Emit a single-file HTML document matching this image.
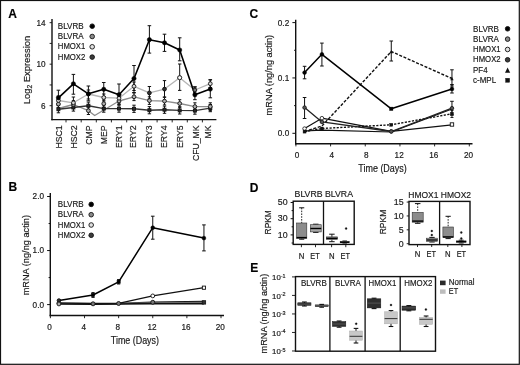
<!DOCTYPE html><html><head><meta charset="utf-8"><style>html,body{margin:0;padding:0;background:#fff;}svg{display:block;filter:blur(0.3px);}text{font-family:"Liberation Sans",sans-serif;stroke:#1a1a1a;stroke-width:0.18px;}</style></head><body>
<svg width="520" height="365" viewBox="0 0 520 365">
<rect x="0" y="0" width="520" height="365" fill="#fff"/>
<rect x="0.5" y="0.5" width="518.8" height="363.8" fill="none" stroke="#111" stroke-width="1.2"/>
<text x="8.2" y="17.8" font-size="12" text-anchor="start" font-weight="bold" fill="#000" >A</text>
<text x="8.6" y="190.8" font-size="12" text-anchor="start" font-weight="bold" fill="#000" >B</text>
<text x="249.6" y="17.6" font-size="12" text-anchor="start" font-weight="bold" fill="#000" >C</text>
<text x="249.8" y="191.6" font-size="12" text-anchor="start" font-weight="bold" fill="#000" >D</text>
<text x="250.2" y="272" font-size="12" text-anchor="start" font-weight="bold" fill="#000" >E</text>
<line x1="52.0" y1="19" x2="52.0" y2="120.2" stroke="#111" stroke-width="1.4" />
<line x1="51.3" y1="119.6" x2="216.4" y2="119.6" stroke="#111" stroke-width="1.4" />
<line x1="49.6" y1="22.659999999999997" x2="52.0" y2="22.659999999999997" stroke="#111" stroke-width="0.9" />
<line x1="49.6" y1="43.42" x2="52.0" y2="43.42" stroke="#111" stroke-width="0.9" />
<line x1="49.6" y1="64.18" x2="52.0" y2="64.18" stroke="#111" stroke-width="0.9" />
<line x1="49.6" y1="84.94" x2="52.0" y2="84.94" stroke="#111" stroke-width="0.9" />
<line x1="49.6" y1="105.7" x2="52.0" y2="105.7" stroke="#111" stroke-width="0.9" />
<text x="45.6" y="25.559999999999995" font-size="8.2" text-anchor="end" font-weight="normal" fill="#1a1a1a" >14</text>
<text x="45.6" y="67.08000000000001" font-size="8.2" text-anchor="end" font-weight="normal" fill="#1a1a1a" >10</text>
<text x="45.6" y="108.60000000000001" font-size="8.2" text-anchor="end" font-weight="normal" fill="#1a1a1a" >6</text>
<text transform="translate(30.0,70.0) rotate(-90)" font-size="9.6" text-anchor="middle" fill="#1a1a1a" textLength="68.6" lengthAdjust="spacingAndGlyphs">Log<tspan font-size="6.8" dy="2.2">2</tspan><tspan dy="-2.2"> Expression</tspan></text>
<line x1="66.0" y1="119.6" x2="66.0" y2="122.4" stroke="#111" stroke-width="0.9" />
<line x1="81.2" y1="119.6" x2="81.2" y2="122.4" stroke="#111" stroke-width="0.9" />
<line x1="96.3" y1="119.6" x2="96.3" y2="122.4" stroke="#111" stroke-width="0.9" />
<line x1="111.4" y1="119.6" x2="111.4" y2="122.4" stroke="#111" stroke-width="0.9" />
<line x1="126.7" y1="119.6" x2="126.7" y2="122.4" stroke="#111" stroke-width="0.9" />
<line x1="141.8" y1="119.6" x2="141.8" y2="122.4" stroke="#111" stroke-width="0.9" />
<line x1="157.1" y1="119.6" x2="157.1" y2="122.4" stroke="#111" stroke-width="0.9" />
<line x1="172.2" y1="119.6" x2="172.2" y2="122.4" stroke="#111" stroke-width="0.9" />
<line x1="187.3" y1="119.6" x2="187.3" y2="122.4" stroke="#111" stroke-width="0.9" />
<line x1="202.4" y1="119.6" x2="202.4" y2="122.4" stroke="#111" stroke-width="0.9" />
<text transform="translate(62.1,125.4) rotate(-90)" font-size="8.7" text-anchor="end" fill="#1a1a1a">HSC1</text>
<text transform="translate(76.5,125.4) rotate(-90)" font-size="8.7" text-anchor="end" fill="#1a1a1a">HSC2</text>
<text transform="translate(92.4,125.4) rotate(-90)" font-size="8.7" text-anchor="end" fill="#1a1a1a">CMP</text>
<text transform="translate(107.4,125.4) rotate(-90)" font-size="8.7" text-anchor="end" fill="#1a1a1a">MEP</text>
<text transform="translate(121.9,125.4) rotate(-90)" font-size="8.7" text-anchor="end" fill="#1a1a1a">ERY1</text>
<text transform="translate(135.6,125.4) rotate(-90)" font-size="8.7" text-anchor="end" fill="#1a1a1a">ERY2</text>
<text transform="translate(151.7,125.4) rotate(-90)" font-size="8.7" text-anchor="end" fill="#1a1a1a">ERY3</text>
<text transform="translate(167.0,125.4) rotate(-90)" font-size="8.7" text-anchor="end" fill="#1a1a1a">ERY4</text>
<text transform="translate(182.7,125.4) rotate(-90)" font-size="8.7" text-anchor="end" fill="#1a1a1a">ERY5</text>
<text transform="translate(198.6,125.4) rotate(-90)" font-size="8.7" text-anchor="end" fill="#1a1a1a">CFU_MK</text>
<text transform="translate(211.2,125.4) rotate(-90)" font-size="8.7" text-anchor="end" fill="#1a1a1a">MK</text>
<text x="57.8" y="29.0" font-size="9.1" text-anchor="start" font-weight="normal" fill="#1a1a1a" textLength="25.8" lengthAdjust="spacingAndGlyphs" >BLVRB</text>
<circle cx="92.2" cy="26.2" r="2.3" fill="#000" stroke="#111" stroke-width="0.9"/>
<text x="57.8" y="39.2" font-size="9.1" text-anchor="start" font-weight="normal" fill="#1a1a1a" textLength="25.8" lengthAdjust="spacingAndGlyphs" >BLVRA</text>
<circle cx="92.2" cy="36.5" r="2.3" fill="#8a8a8a" stroke="#111" stroke-width="0.9"/>
<text x="57.8" y="49.4" font-size="9.1" text-anchor="start" font-weight="normal" fill="#1a1a1a" textLength="27.5" lengthAdjust="spacingAndGlyphs" >HMOX1</text>
<circle cx="92.2" cy="46.8" r="2.3" fill="#e0e0e0" stroke="#111" stroke-width="0.9"/>
<text x="57.8" y="59.599999999999994" font-size="9.1" text-anchor="start" font-weight="normal" fill="#1a1a1a" textLength="27.5" lengthAdjust="spacingAndGlyphs" >HMOX2</text>
<circle cx="92.2" cy="57.1" r="2.3" fill="#3c3c3c" stroke="#111" stroke-width="0.9"/>
<polyline points="58.4,100.5 73.4,102.8 88.4,94.0 103.75,97.5 119.0,98.2 134.0,86.3 149.4,92.9 164.5,89.1 179.7,77.7 194.9,90.0 210.3,83.7" fill="none" stroke="#b4b4b4" stroke-width="1.3" stroke-linejoin="round" />
<polyline points="58.4,108.5 73.4,104.5 88.4,110.7 94.7,115.5 119,101 134,96.8 149.4,100.6 164.5,101.1 179.7,103.5 194.9,106.6 210.3,106.6" fill="none" stroke="#8c8c8c" stroke-width="1.3" stroke-linejoin="round" />
<polyline points="58.4,109.2 73.4,107.5 88.4,105.7 103.75,108.6 119.0,108.6 134.0,108.8 149.4,110.2 164.5,109.7 179.7,110.4 194.9,110.6 210.3,108.1" fill="none" stroke="#333" stroke-width="1.4" stroke-linejoin="round" />
<line x1="58.4" y1="96" x2="58.4" y2="105" stroke="#111" stroke-width="1.0" />
<line x1="56.699999999999996" y1="96" x2="60.1" y2="96" stroke="#111" stroke-width="1.0" />
<line x1="56.699999999999996" y1="105" x2="60.1" y2="105" stroke="#111" stroke-width="1.0" />
<line x1="58.4" y1="100.2" x2="58.4" y2="107.8" stroke="#111" stroke-width="1.0" />
<line x1="56.8" y1="100.2" x2="60.0" y2="100.2" stroke="#111" stroke-width="1.0" />
<line x1="56.8" y1="107.8" x2="60.0" y2="107.8" stroke="#111" stroke-width="1.0" />
<line x1="58.4" y1="105.60000000000001" x2="58.4" y2="112.8" stroke="#111" stroke-width="1.0" />
<line x1="56.699999999999996" y1="105.60000000000001" x2="60.1" y2="105.60000000000001" stroke="#111" stroke-width="1.0" />
<line x1="56.699999999999996" y1="112.8" x2="60.1" y2="112.8" stroke="#111" stroke-width="1.0" />
<line x1="58.4" y1="90.2" x2="58.4" y2="104" stroke="#111" stroke-width="1.0" />
<line x1="56.6" y1="90.2" x2="60.199999999999996" y2="90.2" stroke="#111" stroke-width="1.0" />
<line x1="56.6" y1="104" x2="60.199999999999996" y2="104" stroke="#111" stroke-width="1.0" />
<line x1="73.4" y1="97" x2="73.4" y2="108" stroke="#111" stroke-width="1.0" />
<line x1="71.7" y1="97" x2="75.10000000000001" y2="97" stroke="#111" stroke-width="1.0" />
<line x1="71.7" y1="108" x2="75.10000000000001" y2="108" stroke="#111" stroke-width="1.0" />
<line x1="73.4" y1="100.7" x2="73.4" y2="108.3" stroke="#111" stroke-width="1.0" />
<line x1="71.80000000000001" y1="100.7" x2="75.0" y2="100.7" stroke="#111" stroke-width="1.0" />
<line x1="71.80000000000001" y1="108.3" x2="75.0" y2="108.3" stroke="#111" stroke-width="1.0" />
<line x1="73.4" y1="103.9" x2="73.4" y2="111.1" stroke="#111" stroke-width="1.0" />
<line x1="71.7" y1="103.9" x2="75.10000000000001" y2="103.9" stroke="#111" stroke-width="1.0" />
<line x1="71.7" y1="111.1" x2="75.10000000000001" y2="111.1" stroke="#111" stroke-width="1.0" />
<line x1="73.4" y1="74.4" x2="73.4" y2="94.2" stroke="#111" stroke-width="1.0" />
<line x1="71.60000000000001" y1="74.4" x2="75.2" y2="74.4" stroke="#111" stroke-width="1.0" />
<line x1="71.60000000000001" y1="94.2" x2="75.2" y2="94.2" stroke="#111" stroke-width="1.0" />
<line x1="88.4" y1="90" x2="88.4" y2="99" stroke="#111" stroke-width="1.0" />
<line x1="86.7" y1="90" x2="90.10000000000001" y2="90" stroke="#111" stroke-width="1.0" />
<line x1="86.7" y1="99" x2="90.10000000000001" y2="99" stroke="#111" stroke-width="1.0" />
<line x1="88.4" y1="106.9" x2="88.4" y2="114.5" stroke="#111" stroke-width="1.0" />
<line x1="86.80000000000001" y1="106.9" x2="90.0" y2="106.9" stroke="#111" stroke-width="1.0" />
<line x1="86.80000000000001" y1="114.5" x2="90.0" y2="114.5" stroke="#111" stroke-width="1.0" />
<line x1="88.4" y1="102.10000000000001" x2="88.4" y2="109.3" stroke="#111" stroke-width="1.0" />
<line x1="86.7" y1="102.10000000000001" x2="90.10000000000001" y2="102.10000000000001" stroke="#111" stroke-width="1.0" />
<line x1="86.7" y1="109.3" x2="90.10000000000001" y2="109.3" stroke="#111" stroke-width="1.0" />
<line x1="88.4" y1="86" x2="88.4" y2="100.8" stroke="#111" stroke-width="1.0" />
<line x1="86.60000000000001" y1="86" x2="90.2" y2="86" stroke="#111" stroke-width="1.0" />
<line x1="86.60000000000001" y1="100.8" x2="90.2" y2="100.8" stroke="#111" stroke-width="1.0" />
<line x1="103.75" y1="94" x2="103.75" y2="101" stroke="#111" stroke-width="1.0" />
<line x1="102.05" y1="94" x2="105.45" y2="94" stroke="#111" stroke-width="1.0" />
<line x1="102.05" y1="101" x2="105.45" y2="101" stroke="#111" stroke-width="1.0" />
<line x1="103.75" y1="99.9" x2="103.75" y2="107.5" stroke="#111" stroke-width="1.0" />
<line x1="102.15" y1="99.9" x2="105.35" y2="99.9" stroke="#111" stroke-width="1.0" />
<line x1="102.15" y1="107.5" x2="105.35" y2="107.5" stroke="#111" stroke-width="1.0" />
<line x1="103.75" y1="105.0" x2="103.75" y2="112.19999999999999" stroke="#111" stroke-width="1.0" />
<line x1="102.05" y1="105.0" x2="105.45" y2="105.0" stroke="#111" stroke-width="1.0" />
<line x1="102.05" y1="112.19999999999999" x2="105.45" y2="112.19999999999999" stroke="#111" stroke-width="1.0" />
<line x1="103.75" y1="82.5" x2="103.75" y2="96.5" stroke="#111" stroke-width="1.0" />
<line x1="101.95" y1="82.5" x2="105.55" y2="82.5" stroke="#111" stroke-width="1.0" />
<line x1="101.95" y1="96.5" x2="105.55" y2="96.5" stroke="#111" stroke-width="1.0" />
<line x1="119.0" y1="94" x2="119.0" y2="102" stroke="#111" stroke-width="1.0" />
<line x1="117.3" y1="94" x2="120.7" y2="94" stroke="#111" stroke-width="1.0" />
<line x1="117.3" y1="102" x2="120.7" y2="102" stroke="#111" stroke-width="1.0" />
<line x1="119.0" y1="97.2" x2="119.0" y2="104.8" stroke="#111" stroke-width="1.0" />
<line x1="117.4" y1="97.2" x2="120.6" y2="97.2" stroke="#111" stroke-width="1.0" />
<line x1="117.4" y1="104.8" x2="120.6" y2="104.8" stroke="#111" stroke-width="1.0" />
<line x1="119.0" y1="105.0" x2="119.0" y2="112.19999999999999" stroke="#111" stroke-width="1.0" />
<line x1="117.3" y1="105.0" x2="120.7" y2="105.0" stroke="#111" stroke-width="1.0" />
<line x1="117.3" y1="112.19999999999999" x2="120.7" y2="112.19999999999999" stroke="#111" stroke-width="1.0" />
<line x1="119.0" y1="84" x2="119.0" y2="104" stroke="#111" stroke-width="1.0" />
<line x1="117.2" y1="84" x2="120.8" y2="84" stroke="#111" stroke-width="1.0" />
<line x1="117.2" y1="104" x2="120.8" y2="104" stroke="#111" stroke-width="1.0" />
<line x1="134.0" y1="82" x2="134.0" y2="90.5" stroke="#111" stroke-width="1.0" />
<line x1="132.3" y1="82" x2="135.7" y2="82" stroke="#111" stroke-width="1.0" />
<line x1="132.3" y1="90.5" x2="135.7" y2="90.5" stroke="#111" stroke-width="1.0" />
<line x1="134.0" y1="93.0" x2="134.0" y2="100.6" stroke="#111" stroke-width="1.0" />
<line x1="132.4" y1="93.0" x2="135.6" y2="93.0" stroke="#111" stroke-width="1.0" />
<line x1="132.4" y1="100.6" x2="135.6" y2="100.6" stroke="#111" stroke-width="1.0" />
<line x1="134.0" y1="105.2" x2="134.0" y2="112.39999999999999" stroke="#111" stroke-width="1.0" />
<line x1="132.3" y1="105.2" x2="135.7" y2="105.2" stroke="#111" stroke-width="1.0" />
<line x1="132.3" y1="112.39999999999999" x2="135.7" y2="112.39999999999999" stroke="#111" stroke-width="1.0" />
<line x1="134.0" y1="65.5" x2="134.0" y2="92.5" stroke="#111" stroke-width="1.0" />
<line x1="132.2" y1="65.5" x2="135.8" y2="65.5" stroke="#111" stroke-width="1.0" />
<line x1="132.2" y1="92.5" x2="135.8" y2="92.5" stroke="#111" stroke-width="1.0" />
<line x1="149.4" y1="86.5" x2="149.4" y2="99" stroke="#111" stroke-width="1.0" />
<line x1="147.70000000000002" y1="86.5" x2="151.1" y2="86.5" stroke="#111" stroke-width="1.0" />
<line x1="147.70000000000002" y1="99" x2="151.1" y2="99" stroke="#111" stroke-width="1.0" />
<line x1="149.4" y1="96.8" x2="149.4" y2="104.39999999999999" stroke="#111" stroke-width="1.0" />
<line x1="147.8" y1="96.8" x2="151.0" y2="96.8" stroke="#111" stroke-width="1.0" />
<line x1="147.8" y1="104.39999999999999" x2="151.0" y2="104.39999999999999" stroke="#111" stroke-width="1.0" />
<line x1="149.4" y1="106.60000000000001" x2="149.4" y2="113.8" stroke="#111" stroke-width="1.0" />
<line x1="147.70000000000002" y1="106.60000000000001" x2="151.1" y2="106.60000000000001" stroke="#111" stroke-width="1.0" />
<line x1="147.70000000000002" y1="113.8" x2="151.1" y2="113.8" stroke="#111" stroke-width="1.0" />
<line x1="149.4" y1="25.7" x2="149.4" y2="53.1" stroke="#111" stroke-width="1.0" />
<line x1="147.6" y1="25.7" x2="151.20000000000002" y2="25.7" stroke="#111" stroke-width="1.0" />
<line x1="147.6" y1="53.1" x2="151.20000000000002" y2="53.1" stroke="#111" stroke-width="1.0" />
<line x1="164.5" y1="80.6" x2="164.5" y2="97" stroke="#111" stroke-width="1.0" />
<line x1="162.8" y1="80.6" x2="166.2" y2="80.6" stroke="#111" stroke-width="1.0" />
<line x1="162.8" y1="97" x2="166.2" y2="97" stroke="#111" stroke-width="1.0" />
<line x1="164.5" y1="97.3" x2="164.5" y2="104.89999999999999" stroke="#111" stroke-width="1.0" />
<line x1="162.9" y1="97.3" x2="166.1" y2="97.3" stroke="#111" stroke-width="1.0" />
<line x1="162.9" y1="104.89999999999999" x2="166.1" y2="104.89999999999999" stroke="#111" stroke-width="1.0" />
<line x1="164.5" y1="106.10000000000001" x2="164.5" y2="113.3" stroke="#111" stroke-width="1.0" />
<line x1="162.8" y1="106.10000000000001" x2="166.2" y2="106.10000000000001" stroke="#111" stroke-width="1.0" />
<line x1="162.8" y1="113.3" x2="166.2" y2="113.3" stroke="#111" stroke-width="1.0" />
<line x1="164.5" y1="34.2" x2="164.5" y2="51.4" stroke="#111" stroke-width="1.0" />
<line x1="162.7" y1="34.2" x2="166.3" y2="34.2" stroke="#111" stroke-width="1.0" />
<line x1="162.7" y1="51.4" x2="166.3" y2="51.4" stroke="#111" stroke-width="1.0" />
<line x1="179.7" y1="64" x2="179.7" y2="90.4" stroke="#111" stroke-width="1.0" />
<line x1="178.0" y1="64" x2="181.39999999999998" y2="64" stroke="#111" stroke-width="1.0" />
<line x1="178.0" y1="90.4" x2="181.39999999999998" y2="90.4" stroke="#111" stroke-width="1.0" />
<line x1="179.7" y1="99.7" x2="179.7" y2="107.3" stroke="#111" stroke-width="1.0" />
<line x1="178.1" y1="99.7" x2="181.29999999999998" y2="99.7" stroke="#111" stroke-width="1.0" />
<line x1="178.1" y1="107.3" x2="181.29999999999998" y2="107.3" stroke="#111" stroke-width="1.0" />
<line x1="179.7" y1="106.80000000000001" x2="179.7" y2="114.0" stroke="#111" stroke-width="1.0" />
<line x1="178.0" y1="106.80000000000001" x2="181.39999999999998" y2="106.80000000000001" stroke="#111" stroke-width="1.0" />
<line x1="178.0" y1="114.0" x2="181.39999999999998" y2="114.0" stroke="#111" stroke-width="1.0" />
<line x1="179.7" y1="37.8" x2="179.7" y2="60.8" stroke="#111" stroke-width="1.0" />
<line x1="177.89999999999998" y1="37.8" x2="181.5" y2="37.8" stroke="#111" stroke-width="1.0" />
<line x1="177.89999999999998" y1="60.8" x2="181.5" y2="60.8" stroke="#111" stroke-width="1.0" />
<line x1="194.9" y1="86.9" x2="194.9" y2="93" stroke="#111" stroke-width="1.0" />
<line x1="193.20000000000002" y1="86.9" x2="196.6" y2="86.9" stroke="#111" stroke-width="1.0" />
<line x1="193.20000000000002" y1="93" x2="196.6" y2="93" stroke="#111" stroke-width="1.0" />
<line x1="194.9" y1="102.8" x2="194.9" y2="110.39999999999999" stroke="#111" stroke-width="1.0" />
<line x1="193.3" y1="102.8" x2="196.5" y2="102.8" stroke="#111" stroke-width="1.0" />
<line x1="193.3" y1="110.39999999999999" x2="196.5" y2="110.39999999999999" stroke="#111" stroke-width="1.0" />
<line x1="194.9" y1="107.0" x2="194.9" y2="114.19999999999999" stroke="#111" stroke-width="1.0" />
<line x1="193.20000000000002" y1="107.0" x2="196.6" y2="107.0" stroke="#111" stroke-width="1.0" />
<line x1="193.20000000000002" y1="114.19999999999999" x2="196.6" y2="114.19999999999999" stroke="#111" stroke-width="1.0" />
<line x1="194.9" y1="86.9" x2="194.9" y2="99.7" stroke="#111" stroke-width="1.0" />
<line x1="193.1" y1="86.9" x2="196.70000000000002" y2="86.9" stroke="#111" stroke-width="1.0" />
<line x1="193.1" y1="99.7" x2="196.70000000000002" y2="99.7" stroke="#111" stroke-width="1.0" />
<line x1="210.3" y1="80" x2="210.3" y2="87.5" stroke="#111" stroke-width="1.0" />
<line x1="208.60000000000002" y1="80" x2="212.0" y2="80" stroke="#111" stroke-width="1.0" />
<line x1="208.60000000000002" y1="87.5" x2="212.0" y2="87.5" stroke="#111" stroke-width="1.0" />
<line x1="210.3" y1="102.8" x2="210.3" y2="110.39999999999999" stroke="#111" stroke-width="1.0" />
<line x1="208.70000000000002" y1="102.8" x2="211.9" y2="102.8" stroke="#111" stroke-width="1.0" />
<line x1="208.70000000000002" y1="110.39999999999999" x2="211.9" y2="110.39999999999999" stroke="#111" stroke-width="1.0" />
<line x1="210.3" y1="104.5" x2="210.3" y2="111.69999999999999" stroke="#111" stroke-width="1.0" />
<line x1="208.60000000000002" y1="104.5" x2="212.0" y2="104.5" stroke="#111" stroke-width="1.0" />
<line x1="208.60000000000002" y1="111.69999999999999" x2="212.0" y2="111.69999999999999" stroke="#111" stroke-width="1.0" />
<line x1="210.3" y1="79.6" x2="210.3" y2="97.8" stroke="#111" stroke-width="1.0" />
<line x1="208.5" y1="79.6" x2="212.10000000000002" y2="79.6" stroke="#111" stroke-width="1.0" />
<line x1="208.5" y1="97.8" x2="212.10000000000002" y2="97.8" stroke="#111" stroke-width="1.0" />
<polyline points="58.4,97.8 73.4,83.8 88.4,93.8 103.75,89.3 119.0,94.7 134.0,78.5 149.4,39.7 164.5,42.8 179.7,50.0 194.9,94.8 210.3,89.1" fill="none" stroke="#000" stroke-width="1.6" stroke-linejoin="round" />
<rect x="56.9" y="107.7" width="3.0" height="3.0" fill="#2a2a2a" stroke="#111" stroke-width="0.9"/>
<circle cx="58.4" cy="104.0" r="1.9" fill="#b0b0b0" stroke="#111" stroke-width="0.9"/>
<circle cx="58.4" cy="100.5" r="1.9" fill="#d8d8d8" stroke="#111" stroke-width="0.9"/>
<circle cx="58.4" cy="97.8" r="2.1" fill="#000" stroke="#000" stroke-width="0.6"/>
<rect x="71.9" y="106.0" width="3.0" height="3.0" fill="#2a2a2a" stroke="#111" stroke-width="0.9"/>
<circle cx="73.4" cy="104.5" r="1.9" fill="#b0b0b0" stroke="#111" stroke-width="0.9"/>
<circle cx="73.4" cy="102.8" r="1.9" fill="#d8d8d8" stroke="#111" stroke-width="0.9"/>
<circle cx="73.4" cy="83.8" r="2.1" fill="#000" stroke="#000" stroke-width="0.6"/>
<rect x="86.9" y="104.2" width="3.0" height="3.0" fill="#2a2a2a" stroke="#111" stroke-width="0.9"/>
<circle cx="88.4" cy="110.7" r="1.9" fill="#b0b0b0" stroke="#111" stroke-width="0.9"/>
<circle cx="88.4" cy="94.0" r="1.9" fill="#d8d8d8" stroke="#111" stroke-width="0.9"/>
<circle cx="88.4" cy="93.8" r="2.1" fill="#000" stroke="#000" stroke-width="0.6"/>
<rect x="102.25" y="107.1" width="3.0" height="3.0" fill="#2a2a2a" stroke="#111" stroke-width="0.9"/>
<circle cx="103.75" cy="103.7" r="1.9" fill="#b0b0b0" stroke="#111" stroke-width="0.9"/>
<circle cx="103.75" cy="97.5" r="1.9" fill="#d8d8d8" stroke="#111" stroke-width="0.9"/>
<circle cx="103.75" cy="89.3" r="2.1" fill="#000" stroke="#000" stroke-width="0.6"/>
<rect x="117.5" y="107.1" width="3.0" height="3.0" fill="#2a2a2a" stroke="#111" stroke-width="0.9"/>
<circle cx="119" cy="101" r="1.9" fill="#b0b0b0" stroke="#111" stroke-width="0.9"/>
<circle cx="119.0" cy="98.2" r="1.9" fill="#d8d8d8" stroke="#111" stroke-width="0.9"/>
<circle cx="119.0" cy="94.7" r="2.1" fill="#000" stroke="#000" stroke-width="0.6"/>
<rect x="132.5" y="107.3" width="3.0" height="3.0" fill="#2a2a2a" stroke="#111" stroke-width="0.9"/>
<circle cx="134" cy="96.8" r="1.9" fill="#b0b0b0" stroke="#111" stroke-width="0.9"/>
<circle cx="134.0" cy="86.3" r="1.9" fill="#d8d8d8" stroke="#111" stroke-width="0.9"/>
<circle cx="134.0" cy="78.5" r="2.1" fill="#000" stroke="#000" stroke-width="0.6"/>
<rect x="147.9" y="108.7" width="3.0" height="3.0" fill="#2a2a2a" stroke="#111" stroke-width="0.9"/>
<circle cx="149.4" cy="100.6" r="1.9" fill="#b0b0b0" stroke="#111" stroke-width="0.9"/>
<circle cx="149.4" cy="92.9" r="1.9" fill="#333" stroke="#111" stroke-width="0.9"/>
<circle cx="149.4" cy="39.7" r="2.1" fill="#000" stroke="#000" stroke-width="0.6"/>
<rect x="163.0" y="108.2" width="3.0" height="3.0" fill="#2a2a2a" stroke="#111" stroke-width="0.9"/>
<circle cx="164.5" cy="101.1" r="1.9" fill="#b0b0b0" stroke="#111" stroke-width="0.9"/>
<circle cx="164.5" cy="89.1" r="1.9" fill="#333" stroke="#111" stroke-width="0.9"/>
<circle cx="164.5" cy="42.8" r="2.1" fill="#000" stroke="#000" stroke-width="0.6"/>
<rect x="178.2" y="108.9" width="3.0" height="3.0" fill="#2a2a2a" stroke="#111" stroke-width="0.9"/>
<circle cx="179.7" cy="103.5" r="1.9" fill="#b0b0b0" stroke="#111" stroke-width="0.9"/>
<circle cx="179.7" cy="77.7" r="1.9" fill="#fff" stroke="#111" stroke-width="0.9"/>
<circle cx="179.7" cy="50.0" r="2.1" fill="#000" stroke="#000" stroke-width="0.6"/>
<rect x="193.4" y="109.1" width="3.0" height="3.0" fill="#2a2a2a" stroke="#111" stroke-width="0.9"/>
<circle cx="194.9" cy="106.6" r="1.9" fill="#b0b0b0" stroke="#111" stroke-width="0.9"/>
<circle cx="194.9" cy="90.0" r="1.9" fill="#777" stroke="#111" stroke-width="0.9"/>
<circle cx="194.9" cy="94.8" r="2.1" fill="#000" stroke="#000" stroke-width="0.6"/>
<rect x="208.8" y="106.6" width="3.0" height="3.0" fill="#2a2a2a" stroke="#111" stroke-width="0.9"/>
<circle cx="210.3" cy="106.6" r="1.9" fill="#b0b0b0" stroke="#111" stroke-width="0.9"/>
<circle cx="210.3" cy="83.7" r="1.9" fill="#d8d8d8" stroke="#111" stroke-width="0.9"/>
<circle cx="210.3" cy="89.1" r="2.1" fill="#000" stroke="#000" stroke-width="0.6"/>
<circle cx="179.7" cy="77.7" r="2.0" fill="#fff" stroke="#222" stroke-width="0.9"/>
<line x1="50.3" y1="193" x2="50.3" y2="316.2" stroke="#111" stroke-width="1.4" />
<line x1="49.599999999999994" y1="315.5" x2="224.0" y2="315.5" stroke="#111" stroke-width="1.4" />
<line x1="47.099999999999994" y1="196.50000000000003" x2="50.3" y2="196.50000000000003" stroke="#111" stroke-width="1.0" />
<line x1="48.599999999999994" y1="223.52500000000003" x2="50.3" y2="223.52500000000003" stroke="#111" stroke-width="1.0" />
<line x1="47.099999999999994" y1="250.55" x2="50.3" y2="250.55" stroke="#111" stroke-width="1.0" />
<line x1="48.599999999999994" y1="277.57500000000005" x2="50.3" y2="277.57500000000005" stroke="#111" stroke-width="1.0" />
<line x1="47.099999999999994" y1="304.6" x2="50.3" y2="304.6" stroke="#111" stroke-width="1.0" />
<text x="44.0" y="199.40000000000003" font-size="8.2" text-anchor="end" font-weight="normal" fill="#1a1a1a" >2.0</text>
<text x="44.0" y="253.45000000000002" font-size="8.2" text-anchor="end" font-weight="normal" fill="#1a1a1a" >1.0</text>
<text x="44.0" y="307.5" font-size="8.2" text-anchor="end" font-weight="normal" fill="#1a1a1a" >0.0</text>
<line x1="50.4" y1="315.5" x2="50.4" y2="318.2" stroke="#111" stroke-width="0.9" />
<text x="49.6" y="329.8" font-size="8.2" text-anchor="middle" font-weight="normal" fill="#1a1a1a" >0</text>
<line x1="84.52" y1="315.5" x2="84.52" y2="318.2" stroke="#111" stroke-width="0.9" />
<text x="83.72" y="329.8" font-size="8.2" text-anchor="middle" font-weight="normal" fill="#1a1a1a" >4</text>
<line x1="118.63999999999999" y1="315.5" x2="118.63999999999999" y2="318.2" stroke="#111" stroke-width="0.9" />
<text x="117.83999999999999" y="329.8" font-size="8.2" text-anchor="middle" font-weight="normal" fill="#1a1a1a" >8</text>
<line x1="152.76" y1="315.5" x2="152.76" y2="318.2" stroke="#111" stroke-width="0.9" />
<text x="151.95999999999998" y="329.8" font-size="8.2" text-anchor="middle" font-weight="normal" fill="#1a1a1a" >12</text>
<line x1="186.88" y1="315.5" x2="186.88" y2="318.2" stroke="#111" stroke-width="0.9" />
<text x="186.07999999999998" y="329.8" font-size="8.2" text-anchor="middle" font-weight="normal" fill="#1a1a1a" >16</text>
<line x1="221.0" y1="315.5" x2="221.0" y2="318.2" stroke="#111" stroke-width="0.9" />
<text x="220.2" y="329.8" font-size="8.2" text-anchor="middle" font-weight="normal" fill="#1a1a1a" >20</text>
<text x="110.8" y="343.6" font-size="10" text-anchor="start" font-weight="normal" fill="#1a1a1a" textLength="48.2" lengthAdjust="spacingAndGlyphs" >Time (Days)</text>
<text transform="translate(29.2,255.2) rotate(-90)" font-size="9.6" text-anchor="middle" fill="#1a1a1a" textLength="80.3" lengthAdjust="spacingAndGlyphs">mRNA (ng/ng actin)</text>
<text x="57.8" y="207.1" font-size="9.1" text-anchor="start" font-weight="normal" fill="#1a1a1a" textLength="25.8" lengthAdjust="spacingAndGlyphs" >BLVRB</text>
<circle cx="91.2" cy="204.4" r="2.3" fill="#000" stroke="#111" stroke-width="0.9"/>
<text x="57.8" y="217.29999999999998" font-size="9.1" text-anchor="start" font-weight="normal" fill="#1a1a1a" textLength="25.8" lengthAdjust="spacingAndGlyphs" >BLVRA</text>
<circle cx="91.2" cy="214.70000000000002" r="2.3" fill="#8a8a8a" stroke="#111" stroke-width="0.9"/>
<text x="57.8" y="227.5" font-size="9.1" text-anchor="start" font-weight="normal" fill="#1a1a1a" textLength="27.5" lengthAdjust="spacingAndGlyphs" >HMOX1</text>
<circle cx="91.2" cy="225.0" r="2.3" fill="#e0e0e0" stroke="#111" stroke-width="0.9"/>
<text x="57.8" y="237.7" font-size="9.1" text-anchor="start" font-weight="normal" fill="#1a1a1a" textLength="27.5" lengthAdjust="spacingAndGlyphs" >HMOX2</text>
<circle cx="91.2" cy="235.3" r="2.3" fill="#3c3c3c" stroke="#111" stroke-width="0.9"/>
<polyline points="58.93,303.2 93.05,303.6 118.63999999999999,303.4 152.76,302.3 203.94,301.4" fill="none" stroke="#111" stroke-width="1.5" stroke-linejoin="round" />
<polyline points="58.93,303.6 93.05,303.9 118.63999999999999,303.6 152.76,302.9 203.94,302.4" fill="none" stroke="#888" stroke-width="1.2" stroke-linejoin="round" />
<polyline points="58.93,304.0 93.05,304.3 118.63999999999999,304.0 152.76,303.6 203.94,303.6" fill="none" stroke="#111" stroke-width="1.6" stroke-linejoin="round" />
<polyline points="58.93,303.0 93.05,303.6 118.63999999999999,303.4 152.76,295.9 203.94,287.7" fill="none" stroke="#111" stroke-width="1.2" stroke-linejoin="round" />
<line x1="93.05" y1="292.6" x2="93.05" y2="297.4" stroke="#111" stroke-width="1.0" />
<line x1="91.45" y1="292.6" x2="94.64999999999999" y2="292.6" stroke="#111" stroke-width="1.0" />
<line x1="91.45" y1="297.4" x2="94.64999999999999" y2="297.4" stroke="#111" stroke-width="1.0" />
<line x1="118.63999999999999" y1="279.6" x2="118.63999999999999" y2="284.0" stroke="#111" stroke-width="1.0" />
<line x1="117.03999999999999" y1="279.6" x2="120.23999999999998" y2="279.6" stroke="#111" stroke-width="1.0" />
<line x1="117.03999999999999" y1="284.0" x2="120.23999999999998" y2="284.0" stroke="#111" stroke-width="1.0" />
<line x1="152.76" y1="216.2" x2="152.76" y2="239.2" stroke="#111" stroke-width="1.0" />
<line x1="150.95999999999998" y1="216.2" x2="154.56" y2="216.2" stroke="#111" stroke-width="1.0" />
<line x1="150.95999999999998" y1="239.2" x2="154.56" y2="239.2" stroke="#111" stroke-width="1.0" />
<line x1="203.94" y1="224.9" x2="203.94" y2="250.9" stroke="#111" stroke-width="1.0" />
<line x1="202.14" y1="224.9" x2="205.74" y2="224.9" stroke="#111" stroke-width="1.0" />
<line x1="202.14" y1="250.9" x2="205.74" y2="250.9" stroke="#111" stroke-width="1.0" />
<polyline points="58.93,300.5 93.05,295.0 118.63999999999999,281.8 152.76,227.7 203.94,238.1" fill="none" stroke="#000" stroke-width="1.5" stroke-linejoin="round" />
<circle cx="58.93" cy="300.5" r="1.8" fill="#333" stroke="#000" stroke-width="0.8"/>
<rect x="91.45" y="293.4" width="3.2" height="3.2" fill="#000" stroke="#000" stroke-width="0.5"/>
<rect x="117.03999999999999" y="280.2" width="3.2" height="3.2" fill="#000" stroke="#000" stroke-width="0.5"/>
<circle cx="152.76" cy="227.7" r="1.9" fill="#000" stroke="#000" stroke-width="0.5"/>
<circle cx="203.94" cy="238.1" r="1.9" fill="#000" stroke="#000" stroke-width="0.5"/>
<circle cx="58.93" cy="303.2" r="2.0" fill="#777" stroke="#111" stroke-width="0.9"/>
<circle cx="93.05" cy="303.8" r="2.0" fill="#777" stroke="#111" stroke-width="0.9"/>
<circle cx="118.63999999999999" cy="303.5" r="2.0" fill="#777" stroke="#111" stroke-width="0.9"/>
<circle cx="152.76" cy="302.3" r="2.0" fill="#777" stroke="#111" stroke-width="0.9"/>
<circle cx="58.93" cy="304.0" r="1.9" fill="#aaa" stroke="#111" stroke-width="0.8"/>
<circle cx="152.76" cy="295.9" r="1.9" fill="#fff" stroke="#111" stroke-width="0.9"/>
<rect x="202.34" y="286.09999999999997" width="3.2" height="3.2" fill="#fff" stroke="#111" stroke-width="0.9"/>
<rect x="202.24" y="300.7" width="3.4" height="3.4" fill="#333" stroke="#111" stroke-width="0.8"/>
<line x1="295.7" y1="19.8" x2="295.7" y2="144.5" stroke="#111" stroke-width="1.4" />
<line x1="295.0" y1="143.8" x2="472.5" y2="143.8" stroke="#111" stroke-width="1.4" />
<line x1="292.4" y1="22.60000000000001" x2="295.7" y2="22.60000000000001" stroke="#111" stroke-width="1.0" />
<line x1="294.09999999999997" y1="50.27500000000002" x2="295.7" y2="50.27500000000002" stroke="#111" stroke-width="1.0" />
<line x1="292.4" y1="77.95000000000002" x2="295.7" y2="77.95000000000002" stroke="#111" stroke-width="1.0" />
<line x1="294.09999999999997" y1="105.62500000000001" x2="295.7" y2="105.62500000000001" stroke="#111" stroke-width="1.0" />
<line x1="292.4" y1="133.3" x2="295.7" y2="133.3" stroke="#111" stroke-width="1.0" />
<text x="289.2" y="25.500000000000007" font-size="8.2" text-anchor="end" font-weight="normal" fill="#1a1a1a" >0.2</text>
<text x="289.2" y="80.85000000000002" font-size="8.2" text-anchor="end" font-weight="normal" fill="#1a1a1a" >0.1</text>
<text x="289.2" y="136.20000000000002" font-size="8.2" text-anchor="end" font-weight="normal" fill="#1a1a1a" >0.0</text>
<line x1="295.9" y1="143.8" x2="295.9" y2="146.4" stroke="#111" stroke-width="0.9" />
<text x="297.0" y="158.1" font-size="8.2" text-anchor="middle" font-weight="normal" fill="#1a1a1a" >0</text>
<line x1="330.58" y1="143.8" x2="330.58" y2="146.4" stroke="#111" stroke-width="0.9" />
<text x="331.68" y="158.1" font-size="8.2" text-anchor="middle" font-weight="normal" fill="#1a1a1a" >4</text>
<line x1="365.26" y1="143.8" x2="365.26" y2="146.4" stroke="#111" stroke-width="0.9" />
<text x="366.36" y="158.1" font-size="8.2" text-anchor="middle" font-weight="normal" fill="#1a1a1a" >8</text>
<line x1="399.93999999999994" y1="143.8" x2="399.93999999999994" y2="146.4" stroke="#111" stroke-width="0.9" />
<text x="399.13999999999993" y="158.1" font-size="8.2" text-anchor="middle" font-weight="normal" fill="#1a1a1a" >12</text>
<line x1="434.62" y1="143.8" x2="434.62" y2="146.4" stroke="#111" stroke-width="0.9" />
<text x="433.82" y="158.1" font-size="8.2" text-anchor="middle" font-weight="normal" fill="#1a1a1a" >16</text>
<line x1="469.29999999999995" y1="143.8" x2="469.29999999999995" y2="146.4" stroke="#111" stroke-width="0.9" />
<text x="468.49999999999994" y="158.1" font-size="8.2" text-anchor="middle" font-weight="normal" fill="#1a1a1a" >20</text>
<text x="358.3" y="171.5" font-size="10" text-anchor="start" font-weight="normal" fill="#1a1a1a" textLength="48.5" lengthAdjust="spacingAndGlyphs" >Time (Days)</text>
<text transform="translate(271.6,75.1) rotate(-90)" font-size="9.6" text-anchor="middle" fill="#1a1a1a" textLength="80.6" lengthAdjust="spacingAndGlyphs">mRNA (ng/ng actin)</text>
<text x="473.1" y="31.5" font-size="9.1" text-anchor="start" font-weight="normal" fill="#1a1a1a" textLength="25.9" lengthAdjust="spacingAndGlyphs" >BLVRB</text>
<text x="473.1" y="41.75" font-size="9.1" text-anchor="start" font-weight="normal" fill="#1a1a1a" textLength="25.9" lengthAdjust="spacingAndGlyphs" >BLVRA</text>
<text x="473.1" y="52.0" font-size="9.1" text-anchor="start" font-weight="normal" fill="#1a1a1a" textLength="27.5" lengthAdjust="spacingAndGlyphs" >HMOX1</text>
<text x="473.1" y="62.25" font-size="9.1" text-anchor="start" font-weight="normal" fill="#1a1a1a" textLength="27.5" lengthAdjust="spacingAndGlyphs" >HMOX2</text>
<text x="473.1" y="72.5" font-size="9.1" text-anchor="start" font-weight="normal" fill="#1a1a1a" textLength="14.5" lengthAdjust="spacingAndGlyphs" >PF4</text>
<text x="473.1" y="82.75" font-size="9.1" text-anchor="start" font-weight="normal" fill="#1a1a1a" textLength="23.0" lengthAdjust="spacingAndGlyphs" >c-MPL</text>
<circle cx="507.6" cy="28.8" r="2.3" fill="#000" stroke="#111" stroke-width="0.9"/>
<circle cx="507.6" cy="39.13" r="2.3" fill="#8a8a8a" stroke="#111" stroke-width="0.9"/>
<circle cx="507.6" cy="49.46" r="2.3" fill="#e0e0e0" stroke="#111" stroke-width="0.9"/>
<circle cx="507.6" cy="59.790000000000006" r="2.3" fill="#3c3c3c" stroke="#111" stroke-width="0.9"/>
<polygon points="505.0,72.74000000000001 510.20000000000005,72.74000000000001 507.6,67.54" fill="#111"/>
<rect x="505.5" y="78.2" width="4.2" height="4.2" fill="#111" stroke="#111" stroke-width="0.3"/>
<polyline points="304.57,131.6 321.90999999999997,126.0 391.27,51.5 451.96,78.5" fill="none" stroke="#111" stroke-width="1.4" stroke-linejoin="round" stroke-dasharray="3,1.6"/>
<line x1="391.27" y1="41.0" x2="391.27" y2="61.0" stroke="#111" stroke-width="1.0" />
<line x1="389.46999999999997" y1="41.0" x2="393.07" y2="41.0" stroke="#111" stroke-width="1.0" />
<line x1="389.46999999999997" y1="61.0" x2="393.07" y2="61.0" stroke="#111" stroke-width="1.0" />
<line x1="451.96" y1="69.8" x2="451.96" y2="86.0" stroke="#111" stroke-width="1.0" />
<line x1="450.15999999999997" y1="69.8" x2="453.76" y2="69.8" stroke="#111" stroke-width="1.0" />
<line x1="450.15999999999997" y1="86.0" x2="453.76" y2="86.0" stroke="#111" stroke-width="1.0" />
<polyline points="304.57,131.6 321.90999999999997,128.5 391.27,124.8 451.96,113.8" fill="none" stroke="#111" stroke-width="1.4" stroke-linejoin="round" stroke-dasharray="2.2,1.4"/>
<polyline points="304.57,128.6 321.90999999999997,118.2 391.27,131.3 451.96,124.8" fill="none" stroke="#111" stroke-width="1.2" stroke-linejoin="round" />
<polyline points="304.57,131.0 321.90999999999997,130.2 391.27,132.0 451.96,109.0" fill="none" stroke="#111" stroke-width="1.2" stroke-linejoin="round" />
<polyline points="304.57,107.6 321.90999999999997,121.9 391.27,131.5 451.96,108.2" fill="none" stroke="#222" stroke-width="1.3" stroke-linejoin="round" />
<line x1="304.57" y1="97.5" x2="304.57" y2="118.5" stroke="#111" stroke-width="1.0" />
<line x1="302.77" y1="97.5" x2="306.37" y2="97.5" stroke="#111" stroke-width="1.0" />
<line x1="302.77" y1="118.5" x2="306.37" y2="118.5" stroke="#111" stroke-width="1.0" />
<line x1="451.96" y1="101.3" x2="451.96" y2="115.0" stroke="#111" stroke-width="1.0" />
<line x1="450.15999999999997" y1="101.3" x2="453.76" y2="101.3" stroke="#111" stroke-width="1.0" />
<line x1="450.15999999999997" y1="115.0" x2="453.76" y2="115.0" stroke="#111" stroke-width="1.0" />
<polyline points="304.57,72.6 321.90999999999997,54.3 391.27,108.8 451.96,89.0" fill="none" stroke="#000" stroke-width="1.5" stroke-linejoin="round" />
<line x1="304.57" y1="66.3" x2="304.57" y2="78.8" stroke="#111" stroke-width="1.0" />
<line x1="302.77" y1="66.3" x2="306.37" y2="66.3" stroke="#111" stroke-width="1.0" />
<line x1="302.77" y1="78.8" x2="306.37" y2="78.8" stroke="#111" stroke-width="1.0" />
<line x1="321.90999999999997" y1="43.1" x2="321.90999999999997" y2="66.0" stroke="#111" stroke-width="1.0" />
<line x1="320.10999999999996" y1="43.1" x2="323.71" y2="43.1" stroke="#111" stroke-width="1.0" />
<line x1="320.10999999999996" y1="66.0" x2="323.71" y2="66.0" stroke="#111" stroke-width="1.0" />
<line x1="451.96" y1="84.5" x2="451.96" y2="93.0" stroke="#111" stroke-width="1.0" />
<line x1="450.15999999999997" y1="84.5" x2="453.76" y2="84.5" stroke="#111" stroke-width="1.0" />
<line x1="450.15999999999997" y1="93.0" x2="453.76" y2="93.0" stroke="#111" stroke-width="1.0" />
<circle cx="304.57" cy="72.6" r="1.9" fill="#000" stroke="#000" stroke-width="0.5"/>
<circle cx="321.90999999999997" cy="54.3" r="1.9" fill="#000" stroke="#000" stroke-width="0.5"/>
<circle cx="451.96" cy="89.0" r="1.9" fill="#000" stroke="#000" stroke-width="0.5"/>
<rect x="389.57" y="107.1" width="3.4" height="3.4" fill="#000" stroke="#000" stroke-width="0.4"/>
<circle cx="304.57" cy="128.6" r="1.8" fill="#fff" stroke="#111" stroke-width="0.8"/>
<circle cx="321.90999999999997" cy="118.2" r="1.8" fill="#fff" stroke="#111" stroke-width="0.8"/>
<circle cx="391.27" cy="131.3" r="1.8" fill="#fff" stroke="#111" stroke-width="0.8"/>
<rect x="450.26" y="122.8" width="3.4" height="3.4" fill="#fff" stroke="#111" stroke-width="0.9"/>
<line x1="451.96" y1="110.5" x2="451.96" y2="117.5" stroke="#111" stroke-width="0.9" />
<line x1="450.46" y1="110.5" x2="453.46" y2="110.5" stroke="#111" stroke-width="0.9" />
<line x1="450.46" y1="117.5" x2="453.46" y2="117.5" stroke="#111" stroke-width="0.9" />
<circle cx="304.57" cy="107.6" r="1.8" fill="#555" stroke="#111" stroke-width="0.8"/>
<circle cx="321.90999999999997" cy="121.9" r="1.8" fill="#555" stroke="#111" stroke-width="0.8"/>
<circle cx="391.27" cy="131.5" r="1.8" fill="#555" stroke="#111" stroke-width="0.8"/>
<circle cx="451.96" cy="108.2" r="1.8" fill="#555" stroke="#111" stroke-width="0.8"/>
<rect x="303.07" y="130.1" width="3.0" height="3.0" fill="#111" stroke="#111" stroke-width="0.4"/>
<rect x="320.40999999999997" y="127.0" width="3.0" height="3.0" fill="#111" stroke="#111" stroke-width="0.4"/>
<rect x="389.77" y="123.3" width="3.0" height="3.0" fill="#111" stroke="#111" stroke-width="0.4"/>
<rect x="450.46" y="112.3" width="3.0" height="3.0" fill="#111" stroke="#111" stroke-width="0.4"/>
<polygon points="389.57,53.33 392.96999999999997,53.33 391.27,49.93" fill="#111"/>
<polygon points="450.26,80.33 453.65999999999997,80.33 451.96,76.92999999999999" fill="#111"/>
<rect x="293.2" y="201.2" width="61.0" height="43.2" fill="none" stroke="#111" stroke-width="1.4"/>
<line x1="323.5" y1="201.2" x2="323.5" y2="244.4" stroke="#111" stroke-width="1.3" />
<text x="294.6" y="197.4" font-size="9.3" text-anchor="start" font-weight="normal" fill="#1a1a1a" textLength="58.4" lengthAdjust="spacingAndGlyphs" >BLVRB BLVRA</text>
<line x1="290.6" y1="202.5" x2="293.0" y2="202.5" stroke="#111" stroke-width="1.0" />
<line x1="291.6" y1="210.6" x2="293.0" y2="210.6" stroke="#111" stroke-width="1.0" />
<line x1="290.6" y1="218.7" x2="293.0" y2="218.7" stroke="#111" stroke-width="1.0" />
<line x1="291.6" y1="226.8" x2="293.0" y2="226.8" stroke="#111" stroke-width="1.0" />
<line x1="290.6" y1="234.9" x2="293.0" y2="234.9" stroke="#111" stroke-width="1.0" />
<line x1="291.6" y1="243.0" x2="293.0" y2="243.0" stroke="#111" stroke-width="1.0" />
<text x="287.6" y="205.2" font-size="8.8" text-anchor="end" font-weight="normal" fill="#1a1a1a" >50</text>
<text x="287.6" y="221.39999999999998" font-size="8.8" text-anchor="end" font-weight="normal" fill="#1a1a1a" >30</text>
<text x="287.6" y="237.6" font-size="8.8" text-anchor="end" font-weight="normal" fill="#1a1a1a" >10</text>
<text transform="translate(270.6,222.3) rotate(-90)" font-size="9.6" text-anchor="middle" fill="#1a1a1a" textLength="24.2" lengthAdjust="spacingAndGlyphs">RPKM</text>
<line x1="301.4" y1="244.4" x2="301.4" y2="247.2" stroke="#111" stroke-width="0.9" />
<text x="301.59999999999997" y="258.5" font-size="8.8" text-anchor="middle" font-weight="normal" fill="#1a1a1a" textLength="5.6" lengthAdjust="spacingAndGlyphs" >N</text>
<line x1="315.5" y1="244.4" x2="315.5" y2="247.2" stroke="#111" stroke-width="0.9" />
<text x="315.0" y="258.5" font-size="8.8" text-anchor="middle" font-weight="normal" fill="#1a1a1a" textLength="9.4" lengthAdjust="spacingAndGlyphs" >ET</text>
<line x1="331.6" y1="244.4" x2="331.6" y2="247.2" stroke="#111" stroke-width="0.9" />
<text x="331.8" y="258.5" font-size="8.8" text-anchor="middle" font-weight="normal" fill="#1a1a1a" textLength="5.6" lengthAdjust="spacingAndGlyphs" >N</text>
<line x1="345.8" y1="244.4" x2="345.8" y2="247.2" stroke="#111" stroke-width="0.9" />
<text x="345.3" y="258.5" font-size="8.8" text-anchor="middle" font-weight="normal" fill="#1a1a1a" textLength="9.4" lengthAdjust="spacingAndGlyphs" >ET</text>
<line x1="301.70000000000005" y1="207.8" x2="301.70000000000005" y2="223.0" stroke="#111" stroke-width="0.9" stroke-dasharray="1.6,1.2"/>
<line x1="301.70000000000005" y1="238.4" x2="301.70000000000005" y2="239.2" stroke="#111" stroke-width="0.9" stroke-dasharray="1.6,1.2"/>
<line x1="299.15000000000003" y1="207.8" x2="304.25000000000006" y2="207.8" stroke="#111" stroke-width="1.0" />
<line x1="299.15000000000003" y1="239.2" x2="304.25000000000006" y2="239.2" stroke="#111" stroke-width="1.0" />
<rect x="296.6" y="223.0" width="10.199999999999989" height="15.400000000000006" fill="#8c8c8c" stroke="#333" stroke-width="0.6"/>
<line x1="296.6" y1="237.6" x2="306.8" y2="237.6" stroke="#000" stroke-width="1.4" />
<line x1="315.79999999999995" y1="224.2" x2="315.79999999999995" y2="224.7" stroke="#111" stroke-width="0.9" />
<line x1="315.79999999999995" y1="231.9" x2="315.79999999999995" y2="232.4" stroke="#111" stroke-width="0.9" />
<line x1="313.09999999999997" y1="224.2" x2="318.49999999999994" y2="224.2" stroke="#111" stroke-width="1.0" />
<line x1="313.09999999999997" y1="232.4" x2="318.49999999999994" y2="232.4" stroke="#111" stroke-width="1.0" />
<rect x="310.4" y="224.7" width="10.800000000000011" height="7.200000000000017" fill="#a8a8a8" stroke="#333" stroke-width="0.6"/>
<line x1="310.4" y1="228.5" x2="321.2" y2="228.5" stroke="#000" stroke-width="1.4" />
<line x1="331.9" y1="234.2" x2="331.9" y2="236.9" stroke="#111" stroke-width="0.9" />
<line x1="331.9" y1="239.5" x2="331.9" y2="241.7" stroke="#111" stroke-width="0.9" />
<line x1="329.15" y1="234.2" x2="334.65" y2="234.2" stroke="#111" stroke-width="1.0" />
<line x1="329.15" y1="241.7" x2="334.65" y2="241.7" stroke="#111" stroke-width="1.0" />
<rect x="326.4" y="236.9" width="11.0" height="2.5999999999999943" fill="#a0a0a0" stroke="#333" stroke-width="0.6"/>
<line x1="326.4" y1="238.3" x2="337.4" y2="238.3" stroke="#000" stroke-width="1.4" />
<line x1="344.7" y1="241.0" x2="344.7" y2="241.5" stroke="#111" stroke-width="0.9" />
<line x1="344.7" y1="242.7" x2="344.7" y2="243.0" stroke="#111" stroke-width="0.9" />
<line x1="342.45" y1="241.0" x2="346.95" y2="241.0" stroke="#111" stroke-width="1.0" />
<line x1="342.45" y1="243.0" x2="346.95" y2="243.0" stroke="#111" stroke-width="1.0" />
<rect x="340.2" y="241.5" width="9.0" height="1.1999999999999886" fill="#999" stroke="#333" stroke-width="0.6"/>
<line x1="340.2" y1="242.2" x2="349.2" y2="242.2" stroke="#000" stroke-width="1.4" />
<circle cx="346.1" cy="228.6" r="1.0" fill="#111" stroke="#111" stroke-width="0.3"/>
<rect x="409.0" y="201.4" width="61.0" height="43.2" fill="none" stroke="#111" stroke-width="1.4"/>
<line x1="439.6" y1="201.4" x2="439.6" y2="244.6" stroke="#111" stroke-width="1.3" />
<text x="408.3" y="197.7" font-size="9.3" text-anchor="start" font-weight="normal" fill="#1a1a1a" textLength="62.8" lengthAdjust="spacingAndGlyphs" >HMOX1 HMOX2</text>
<line x1="406.7" y1="202.075" x2="408.9" y2="202.075" stroke="#111" stroke-width="0.9" />
<text x="403.6" y="205.17499999999998" font-size="8.8" text-anchor="end" font-weight="normal" fill="#1a1a1a" >15</text>
<line x1="406.7" y1="215.95" x2="408.9" y2="215.95" stroke="#111" stroke-width="0.9" />
<text x="403.6" y="219.04999999999998" font-size="8.8" text-anchor="end" font-weight="normal" fill="#1a1a1a" >10</text>
<line x1="406.7" y1="229.825" x2="408.9" y2="229.825" stroke="#111" stroke-width="0.9" />
<text x="403.6" y="232.92499999999998" font-size="8.8" text-anchor="end" font-weight="normal" fill="#1a1a1a" >5</text>
<line x1="406.7" y1="243.7" x2="408.9" y2="243.7" stroke="#111" stroke-width="0.9" />
<text x="403.6" y="246.79999999999998" font-size="8.8" text-anchor="end" font-weight="normal" fill="#1a1a1a" >0</text>
<text transform="translate(386.4,222.0) rotate(-90)" font-size="9.6" text-anchor="middle" fill="#1a1a1a" textLength="24.6" lengthAdjust="spacingAndGlyphs">RPKM</text>
<line x1="417.5" y1="244.6" x2="417.5" y2="247.0" stroke="#111" stroke-width="0.9" />
<text x="417.5" y="256.8" font-size="8.8" text-anchor="middle" font-weight="normal" fill="#1a1a1a" textLength="5.6" lengthAdjust="spacingAndGlyphs" >N</text>
<line x1="431.7" y1="244.6" x2="431.7" y2="247.0" stroke="#111" stroke-width="0.9" />
<text x="431.2" y="256.8" font-size="8.8" text-anchor="middle" font-weight="normal" fill="#1a1a1a" textLength="9.4" lengthAdjust="spacingAndGlyphs" >ET</text>
<line x1="447.8" y1="244.6" x2="447.8" y2="247.0" stroke="#111" stroke-width="0.9" />
<text x="447.8" y="256.8" font-size="8.8" text-anchor="middle" font-weight="normal" fill="#1a1a1a" textLength="5.6" lengthAdjust="spacingAndGlyphs" >N</text>
<line x1="461.9" y1="244.6" x2="461.9" y2="247.0" stroke="#111" stroke-width="0.9" />
<text x="461.4" y="256.8" font-size="8.8" text-anchor="middle" font-weight="normal" fill="#1a1a1a" textLength="9.4" lengthAdjust="spacingAndGlyphs" >ET</text>
<line x1="417.7" y1="203.6" x2="417.7" y2="212.4" stroke="#111" stroke-width="0.9" stroke-dasharray="1.6,1.2"/>
<line x1="417.7" y1="222.2" x2="417.7" y2="223.3" stroke="#111" stroke-width="0.9" stroke-dasharray="1.6,1.2"/>
<line x1="414.95" y1="203.6" x2="420.45" y2="203.6" stroke="#111" stroke-width="1.0" />
<line x1="414.95" y1="223.3" x2="420.45" y2="223.3" stroke="#111" stroke-width="1.0" />
<rect x="412.2" y="212.4" width="11.0" height="9.799999999999983" fill="#8c8c8c" stroke="#333" stroke-width="0.6"/>
<line x1="412.2" y1="221.1" x2="423.2" y2="221.1" stroke="#000" stroke-width="1.4" />
<line x1="432.0" y1="237.4" x2="432.0" y2="238.2" stroke="#111" stroke-width="0.9" />
<line x1="432.0" y1="241.3" x2="432.0" y2="242.0" stroke="#111" stroke-width="0.9" />
<line x1="429.3" y1="237.4" x2="434.7" y2="237.4" stroke="#111" stroke-width="1.0" />
<line x1="429.3" y1="242.0" x2="434.7" y2="242.0" stroke="#111" stroke-width="1.0" />
<rect x="426.6" y="238.2" width="10.799999999999955" height="3.1000000000000227" fill="#bbb" stroke="#333" stroke-width="0.6"/>
<line x1="426.6" y1="240.0" x2="437.4" y2="240.0" stroke="#000" stroke-width="1.4" />
<circle cx="431.8" cy="231.0" r="1.0" fill="#111" stroke="#111" stroke-width="0.3"/>
<circle cx="431.8" cy="235.1" r="1.0" fill="#111" stroke="#111" stroke-width="0.3"/>
<line x1="448.15" y1="216.3" x2="448.15" y2="227.0" stroke="#111" stroke-width="0.9" stroke-dasharray="1.6,1.2"/>
<line x1="448.15" y1="237.6" x2="448.15" y2="238.6" stroke="#111" stroke-width="0.9" stroke-dasharray="1.6,1.2"/>
<line x1="445.525" y1="216.3" x2="450.775" y2="216.3" stroke="#111" stroke-width="1.0" />
<line x1="445.525" y1="238.6" x2="450.775" y2="238.6" stroke="#111" stroke-width="1.0" />
<rect x="442.9" y="227.0" width="10.5" height="10.599999999999994" fill="#8c8c8c" stroke="#333" stroke-width="0.6"/>
<line x1="442.9" y1="236.9" x2="453.4" y2="236.9" stroke="#000" stroke-width="1.4" />
<line x1="461.20000000000005" y1="240.2" x2="461.20000000000005" y2="240.9" stroke="#111" stroke-width="0.9" />
<line x1="461.20000000000005" y1="242.3" x2="461.20000000000005" y2="243.0" stroke="#111" stroke-width="0.9" />
<line x1="458.75000000000006" y1="240.2" x2="463.65000000000003" y2="240.2" stroke="#111" stroke-width="1.0" />
<line x1="458.75000000000006" y1="243.0" x2="463.65000000000003" y2="243.0" stroke="#111" stroke-width="1.0" />
<rect x="456.3" y="240.9" width="9.800000000000011" height="1.4000000000000057" fill="#bbb" stroke="#333" stroke-width="0.6"/>
<line x1="456.3" y1="241.6" x2="466.1" y2="241.6" stroke="#000" stroke-width="1.4" />
<circle cx="461.3" cy="232.5" r="1.0" fill="#111" stroke="#111" stroke-width="0.3"/>
<circle cx="461.3" cy="238.5" r="1.0" fill="#111" stroke="#111" stroke-width="0.3"/>
<rect x="295.5" y="276.6" width="140.0" height="74.6" fill="none" stroke="#111" stroke-width="1.4"/>
<line x1="329.9" y1="276.6" x2="329.9" y2="351.2" stroke="#111" stroke-width="1.3" />
<line x1="365.1" y1="276.6" x2="365.1" y2="351.2" stroke="#111" stroke-width="1.3" />
<line x1="400.2" y1="276.6" x2="400.2" y2="351.2" stroke="#111" stroke-width="1.3" />
<line x1="292.0" y1="276.9" x2="295.4" y2="276.9" stroke="#111" stroke-width="0.9" />
<text x="285.6" y="280.20" font-size="7.8" text-anchor="end" fill="#1a1a1a">10<tspan font-size="5.4" dy="-2.7">-1</tspan></text>
<line x1="292.0" y1="295.41999999999996" x2="295.4" y2="295.41999999999996" stroke="#111" stroke-width="0.9" />
<text x="285.6" y="298.72" font-size="7.8" text-anchor="end" fill="#1a1a1a">10<tspan font-size="5.4" dy="-2.7">-2</tspan></text>
<line x1="292.0" y1="313.94" x2="295.4" y2="313.94" stroke="#111" stroke-width="0.9" />
<text x="285.6" y="317.24" font-size="7.8" text-anchor="end" fill="#1a1a1a">10<tspan font-size="5.4" dy="-2.7">-3</tspan></text>
<line x1="292.0" y1="332.46" x2="295.4" y2="332.46" stroke="#111" stroke-width="0.9" />
<text x="285.6" y="335.76" font-size="7.8" text-anchor="end" fill="#1a1a1a">10<tspan font-size="5.4" dy="-2.7">-4</tspan></text>
<line x1="292.0" y1="350.97999999999996" x2="295.4" y2="350.97999999999996" stroke="#111" stroke-width="0.9" />
<text x="285.6" y="354.28" font-size="7.8" text-anchor="end" fill="#1a1a1a">10<tspan font-size="5.4" dy="-2.7">-5</tspan></text>
<text transform="translate(267.0,313.6) rotate(-90)" font-size="9.2" text-anchor="middle" fill="#1a1a1a" textLength="79.6" lengthAdjust="spacingAndGlyphs">mRNA (ng/ng actin)</text>
<text x="301.0" y="286.1" font-size="9.2" text-anchor="start" font-weight="normal" fill="#1a1a1a" textLength="25.8" lengthAdjust="spacingAndGlyphs" >BLVRB</text>
<text x="335.1" y="286.1" font-size="9.2" text-anchor="start" font-weight="normal" fill="#1a1a1a" textLength="25.8" lengthAdjust="spacingAndGlyphs" >BLVRA</text>
<text x="368.6" y="286.1" font-size="9.2" text-anchor="start" font-weight="normal" fill="#1a1a1a" textLength="27.8" lengthAdjust="spacingAndGlyphs" >HMOX1</text>
<text x="404.3" y="286.1" font-size="9.2" text-anchor="start" font-weight="normal" fill="#1a1a1a" textLength="28.0" lengthAdjust="spacingAndGlyphs" >HMOX2</text>
<line x1="304.4" y1="302.0" x2="304.4" y2="306.0" stroke="#111" stroke-width="1.0" />
<line x1="302.024" y1="302.0" x2="306.77599999999995" y2="302.0" stroke="#111" stroke-width="1.1" />
<line x1="302.024" y1="306.0" x2="306.77599999999995" y2="306.0" stroke="#111" stroke-width="1.1" />
<rect x="297.8" y="302.8" width="13.199999999999989" height="2.5" fill="#2e2e2e" stroke="#111" stroke-width="0.5"/>
<line x1="297.8" y1="304.1" x2="311.0" y2="304.1" stroke="#555" stroke-width="1.0" />
<line x1="321.7" y1="304.4" x2="321.7" y2="307.2" stroke="#111" stroke-width="1.0" />
<line x1="319.36" y1="304.4" x2="324.03999999999996" y2="304.4" stroke="#111" stroke-width="1.1" />
<line x1="319.36" y1="307.2" x2="324.03999999999996" y2="307.2" stroke="#111" stroke-width="1.1" />
<rect x="315.2" y="304.9" width="13.0" height="1.7000000000000455" fill="#2a2a2a" stroke="#111" stroke-width="0.5"/>
<line x1="315.2" y1="305.8" x2="328.2" y2="305.8" stroke="#666" stroke-width="1.0" />
<line x1="339.1" y1="321.0" x2="339.1" y2="327.2" stroke="#111" stroke-width="1.0" />
<line x1="336.688" y1="321.0" x2="341.51200000000006" y2="321.0" stroke="#111" stroke-width="1.1" />
<line x1="336.688" y1="327.2" x2="341.51200000000006" y2="327.2" stroke="#111" stroke-width="1.1" />
<rect x="332.4" y="321.6" width="13.400000000000034" height="4.7999999999999545" fill="#2e2e2e" stroke="#111" stroke-width="0.5"/>
<line x1="332.4" y1="324.0" x2="345.8" y2="324.0" stroke="#555" stroke-width="1.0" />
<line x1="356.0" y1="328.4" x2="356.0" y2="343.0" stroke="#111" stroke-width="1.0" />
<line x1="353.696" y1="328.4" x2="358.304" y2="328.4" stroke="#111" stroke-width="1.1" />
<line x1="353.696" y1="343.0" x2="358.304" y2="343.0" stroke="#111" stroke-width="1.1" />
<rect x="349.6" y="331.0" width="12.799999999999955" height="9.199999999999989" fill="#c8c8c8" stroke="#aaa" stroke-width="0.5"/>
<line x1="349.6" y1="336.3" x2="362.4" y2="336.3" stroke="#333" stroke-width="1.0" />
<circle cx="356.2" cy="323.8" r="1.0" fill="#111" stroke="#111" stroke-width="0.3"/>
<line x1="374.05" y1="298.2" x2="374.05" y2="308.6" stroke="#111" stroke-width="1.0" />
<line x1="371.62" y1="298.2" x2="376.48" y2="298.2" stroke="#111" stroke-width="1.1" />
<line x1="371.62" y1="308.6" x2="376.48" y2="308.6" stroke="#111" stroke-width="1.1" />
<rect x="367.3" y="298.8" width="13.5" height="9.099999999999966" fill="#2e2e2e" stroke="#111" stroke-width="0.5"/>
<line x1="367.3" y1="303.1" x2="380.8" y2="303.1" stroke="#555" stroke-width="1.0" />
<line x1="391.0" y1="310.6" x2="391.0" y2="326.5" stroke="#111" stroke-width="1.0" />
<line x1="388.696" y1="310.6" x2="393.304" y2="310.6" stroke="#111" stroke-width="1.1" />
<line x1="388.696" y1="326.5" x2="393.304" y2="326.5" stroke="#111" stroke-width="1.1" />
<rect x="384.6" y="311.8" width="12.799999999999955" height="12.0" fill="#c8c8c8" stroke="#aaa" stroke-width="0.5"/>
<line x1="384.6" y1="318.6" x2="397.4" y2="318.6" stroke="#333" stroke-width="1.0" />
<circle cx="391.0" cy="305.0" r="1.0" fill="#111" stroke="#111" stroke-width="0.3"/>
<line x1="408.85" y1="305.6" x2="408.85" y2="310.8" stroke="#111" stroke-width="1.0" />
<line x1="406.384" y1="305.6" x2="411.31600000000003" y2="305.6" stroke="#111" stroke-width="1.1" />
<line x1="406.384" y1="310.8" x2="411.31600000000003" y2="310.8" stroke="#111" stroke-width="1.1" />
<rect x="402.0" y="306.1" width="13.699999999999989" height="4.099999999999966" fill="#2e2e2e" stroke="#111" stroke-width="0.5"/>
<line x1="402.0" y1="307.9" x2="415.7" y2="307.9" stroke="#555" stroke-width="1.0" />
<line x1="426.1" y1="316.0" x2="426.1" y2="326.5" stroke="#111" stroke-width="1.0" />
<line x1="423.72400000000005" y1="316.0" x2="428.476" y2="316.0" stroke="#111" stroke-width="1.1" />
<line x1="423.72400000000005" y1="326.5" x2="428.476" y2="326.5" stroke="#111" stroke-width="1.1" />
<rect x="419.5" y="317.5" width="13.199999999999989" height="6.800000000000011" fill="#c8c8c8" stroke="#aaa" stroke-width="0.5"/>
<line x1="419.5" y1="319.3" x2="432.7" y2="319.3" stroke="#333" stroke-width="1.0" />
<circle cx="425.9" cy="309.5" r="1.0" fill="#111" stroke="#111" stroke-width="0.3"/>
<rect x="440.0" y="280.6" width="5.6" height="4.6" fill="#2a2a2a"/>
<rect x="440.0" y="289.4" width="5.6" height="4.4" fill="#bdbdbd"/>
<text x="448.8" y="285.3" font-size="9.1" text-anchor="start" font-weight="normal" fill="#1a1a1a" textLength="25.6" lengthAdjust="spacingAndGlyphs" >Normal</text>
<text x="448.8" y="294.4" font-size="9.1" text-anchor="start" font-weight="normal" fill="#1a1a1a" textLength="9.3" lengthAdjust="spacingAndGlyphs" >ET</text>
</svg></body></html>
